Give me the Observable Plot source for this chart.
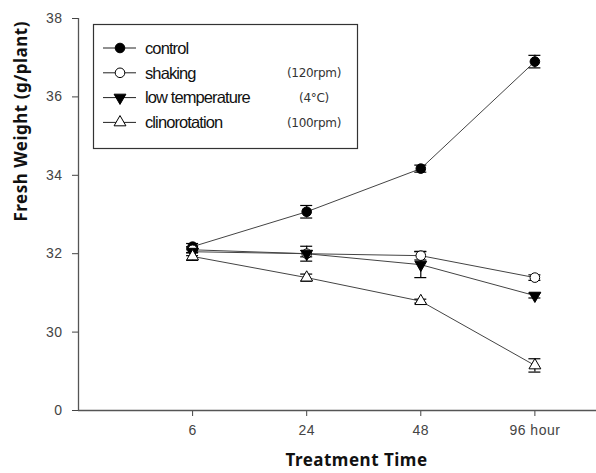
<!DOCTYPE html>
<html>
<head>
<meta charset="utf-8">
<script src="https://cdn.jsdelivr.net/npm/d3@7"></script>
<script src="https://cdn.jsdelivr.net/npm/@observablehq/plot@0.6"></script>
<style>
  html, body { margin: 0; padding: 0; background: #fff; }
  #chart svg { display: block; }
</style>
</head>
<body>
<div id="chart"></div>
<script>
// Sampling times (hours) and their axis labels
const times = [6, 24, 48, 96];
const timeLabels = ["6", "24", "48", "96 hour"];

// Treatments, legend notes and marker styles
const treatments = ["control", "shaking", "low temperature", "clinorotation"];
const notes = ["", "(120rpm)", "(4°C)", "(100rpm)"];

// Mean fresh weight (g/plant) and standard error per treatment
const control = [32.18, 33.07, 34.17, 36.90];
const controlErr = [0.08, 0.16, 0.09, 0.16];
const shaking = [32.10, 32.00, 31.95, 31.39];
const shakingErr = [0.08, 0.08, 0.11, 0.07];
const lowTemp = [32.05, 32.00, 31.72, 30.93];
const lowTempErr = [0.10, 0.19, 0.33, 0.06];
const clino = [31.93, 31.39, 30.79, 29.15];
const clinoErr = [0.10, 0.09, 0.05, 0.17];

// y-axis ticks; the lowest tick marks the broken axis and reads "0"
const yTicks = [28, 30, 32, 34, 36, 38];

const series = [
  {name: treatments[0], values: control, err: controlErr, symbol: "circle", fill: "black", rotate: 0, r: 4.8},
  {name: treatments[1], values: shaking, err: shakingErr, symbol: "circle", fill: "white", rotate: 0, r: 4.8},
  {name: treatments[2], values: lowTemp, err: lowTempErr, symbol: "triangle", fill: "black", rotate: 180, r: 4.4},
  {name: treatments[3], values: clino, err: clinoErr, symbol: "triangle", fill: "white", rotate: 0, r: 4.4}
];

const rows = series.flatMap(s => s.values.map((v, i) => ({
  series: s.name, idx: i + 1, value: v, lo: v - s.err[i], hi: v + s.err[i]
})));

const marks = [
  Plot.ruleY([28], {stroke: "#555", strokeWidth: 1.3}),
  Plot.ruleX([0], {stroke: "#555", strokeWidth: 1.3}),
  Plot.line(rows, {x: "idx", y: "value", z: "series", stroke: "#444", strokeWidth: 1}),
  Plot.ruleX(rows, {x: "idx", y1: "lo", y2: "hi", stroke: "black", strokeWidth: 1.2}),
  Plot.ruleY(rows, {y: "lo", x1: "idx", x2: "idx", insetLeft: -6, insetRight: -6, stroke: "black", strokeWidth: 1.2}),
  Plot.ruleY(rows, {y: "hi", x1: "idx", x2: "idx", insetLeft: -6, insetRight: -6, stroke: "black", strokeWidth: 1.2})
];
for (const s of series) {
  marks.push(Plot.dot(rows.filter(d => d.series === s.name), {
    x: "idx", y: "value", symbol: s.symbol, r: s.r, rotate: s.rotate,
    fill: s.fill, stroke: "black", strokeWidth: 1
  }));
}
marks.push(
  Plot.text(["Fresh Weight (g/plant)"], {
    frameAnchor: "left", dx: -57, dy: 7, rotate: -90,
    fontSize: 17, fontWeight: "bold", fontFamily: "Noto Sans", fill: "#111"
  }),
  Plot.text(["Treatment Time"], {
    frameAnchor: "bottom", dx: 19, dy: 55,
    fontSize: 17, fontWeight: "bold", fontFamily: "Noto Sans", fill: "#111"
  })
);

const svg = Plot.plot({
  width: 596,
  height: 473,
  marginLeft: 78,
  marginRight: 0,
  marginTop: 18,
  marginBottom: 63,
  style: {fontFamily: "'Liberation Sans', Arial, sans-serif", fontSize: "14px", color: "#444", background: "white", letterSpacing: "0.5px"},
  x: {type: "linear", domain: [0, 4.54], ticks: [1, 2, 3, 4],
      tickFormat: d => timeLabels[d - 1], tickSize: 6, tickPadding: 9, label: null},
  y: {domain: [28, 38], ticks: yTicks,
      tickFormat: d => d === 28 ? "0" : String(d), tickSize: 6, tickPadding: 10, label: null},
  marks
});

// Boxed legend in the upper left of the plot area
const sel = d3.select(svg);
const leg = sel.append("g").attr("class", "legend").attr("text-anchor", "start");
leg.append("rect")
  .attr("x", 93.5).attr("y", 24.5).attr("width", 264).attr("height", 124)
  .attr("fill", "white").attr("stroke", "#333").attr("stroke-width", 1.2);
series.forEach((s, i) => {
  const y = 48 + i * 24.8;
  const g = leg.append("g").attr("transform", `translate(0,${y})`);
  g.append("line").attr("x1", 103).attr("x2", 136).attr("y1", 0).attr("y2", 0)
    .attr("stroke", "#222").attr("stroke-width", 1);
  const sym = s.symbol === "circle" ? d3.symbolCircle : d3.symbolTriangle;
  g.append("path")
    .attr("d", d3.symbol(sym, Math.PI * s.r * s.r)())
    .attr("transform", `translate(120,0) rotate(${s.rotate})`)
    .attr("fill", s.fill).attr("stroke", "black").attr("stroke-width", 1);
  g.append("text").attr("x", 145).attr("y", 0).attr("dy", "0.35em")
    .attr("text-anchor", "start")
    .attr("font-family", "'Liberation Sans', Arial, sans-serif").attr("font-size", 16.5)
    .attr("letter-spacing", "-0.9px").attr("fill", "#111").text(s.name);
  if (notes[i]) {
    g.append("text").attr("x", 314).attr("y", 0).attr("dy", "0.35em")
      .attr("text-anchor", "middle").attr("font-family", "'DejaVu Sans', sans-serif")
      .attr("font-size", 12).attr("letter-spacing", "-0.3px").attr("fill", "#333").text(notes[i]);
  }
});

document.getElementById("chart").appendChild(svg);
</script>
</body>
</html>
